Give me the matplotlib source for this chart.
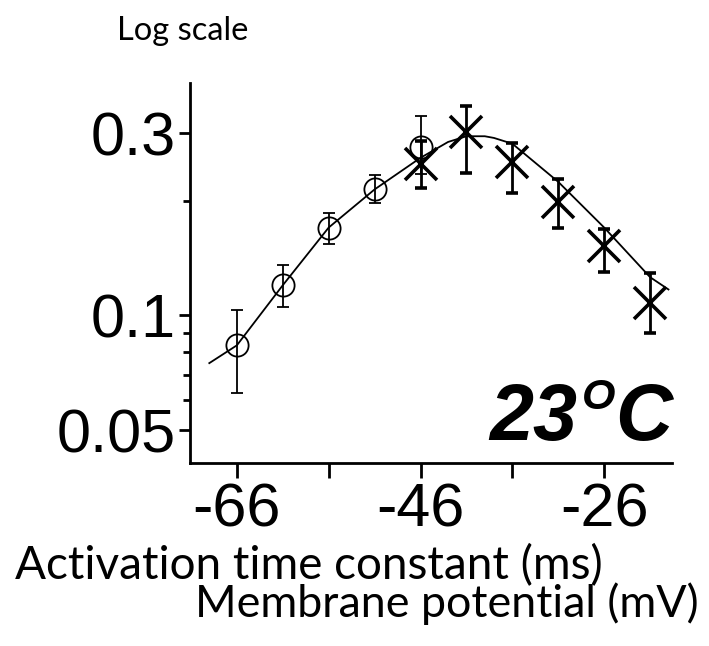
import numpy as np
import matplotlib.pyplot as plt
from matplotlib.ticker import FixedLocator, NullFormatter

# open circles (early voltages)
circ_v = [-66, -61, -56, -51, -46]
circ_tau = [0.0835, 0.120, 0.170, 0.214, 0.276]
circ_lo = [0.0628, 0.105, 0.154, 0.197, 0.235]
circ_hi = [0.1036, 0.136, 0.186, 0.233, 0.334]

# crosses (later voltages)
x_v = [-46, -41, -36, -31, -26, -21]
x_tau = [0.250, 0.302, 0.252, 0.198, 0.1525, 0.108]
x_lo = [0.216, 0.237, 0.209, 0.170, 0.130, 0.0897]
x_hi = [0.286, 0.355, 0.284, 0.228, 0.169, 0.129]

# fitted curve
fit_v = [-69, -66, -61, -56, -51, -46, -44, -43, -41, -39, -38, -36, -31, -26, -21, -19]
fit_tau = [0.075, 0.0835, 0.120, 0.170, 0.214, 0.259, 0.276, 0.285, 0.295, 0.295,
           0.292, 0.282, 0.224, 0.170, 0.126, 0.117]

xticks = [-66, -56, -46, -36, -26]
xticklabels = ['-66', '', '-46', '', '-26']

fig = plt.figure(figsize=(7.09, 6.46), dpi=100)
ax = fig.add_axes([0.268, 0.283, 0.680, 0.588])

ax.plot(fit_v, fit_tau, color='black', lw=1.3, zorder=2)

err_c = [np.array(circ_tau) - np.array(circ_lo), np.array(circ_hi) - np.array(circ_tau)]
ax.errorbar(circ_v, circ_tau, yerr=err_c, fmt='o', mfc='none', mec='black', ms=16,
            mew=1.3, ecolor='black', elinewidth=1.3, capsize=4.5, capthick=1.3, zorder=3)

err_x = [np.array(x_tau) - np.array(x_lo), np.array(x_hi) - np.array(x_tau)]
ax.errorbar(x_v, x_tau, yerr=err_x, fmt='x', mec='black', ms=23, mew=2.6,
            ecolor='black', elinewidth=2.0, capsize=4.5, capthick=2.0, zorder=3)

ax.set_yscale('log')
ax.set_xlim(-71.1, -18.6)
ax.set_ylim(0.041, 0.406)

ax.yaxis.set_major_locator(FixedLocator([0.05, 0.1, 0.3]))
ax.yaxis.set_minor_locator(FixedLocator([0.06, 0.07, 0.08, 0.09, 0.2]))
ax.yaxis.set_minor_formatter(NullFormatter())
ax.set_yticklabels(['0.05', '0.1', '0.3'])
ax.set_xticks(xticks)
ax.set_xticklabels(xticklabels)

for s in ['top', 'right']:
    ax.spines[s].set_visible(False)
for s in ['left', 'bottom']:
    ax.spines[s].set_linewidth(2.0)

ax.tick_params(axis='y', which='major', length=8, width=2, labelsize=44, pad=2)
ax.tick_params(axis='y', which='minor', length=5, width=2)
ax.tick_params(axis='x', which='major', length=11, width=2, labelsize=44, pad=3)
for lab in ax.get_xticklabels() + ax.get_yticklabels():
    lab.set_fontfamily('Liberation Sans')

tkw = dict(transform=ax.transAxes, family='Liberation Sans', fontweight='bold',
           style='italic', color='black')
ax.text(0.620, 0.06, '23', fontsize=57, **tkw)
ax.text(0.812, 0.142, 'O', fontsize=31, **tkw)
ax.text(0.882, 0.06, 'C', fontsize=57, **tkw)

fig.text(0.165, 0.938, 'Log scale', fontsize=23.5, family='Lato')
fig.text(0.021, 0.104, 'Activation time constant (ms)', fontsize=33, family='Lato')
fig.text(0.275, 0.045, 'Membrane potential (mV)', fontsize=32.3, family='Lato')

fig.savefig('out.png', dpi=100)
